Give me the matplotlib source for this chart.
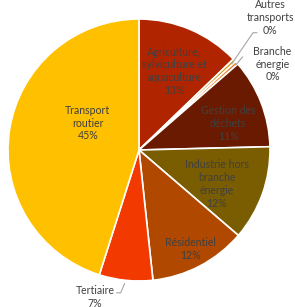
import matplotlib
matplotlib.use("Agg")
import matplotlib.pyplot as plt

# Données (parts des émissions, %)
categories = ["Agriculture,\nsylviculture et\naquaculture", "Autres\ntransports",
              "Branche\nénergie", "Gestion des\ndéchets",
              "Industrie hors\nbranche\nénergie", "Résidentiel", "Tertiaire",
              "Transport\nroutier"]
values = [12.8, 0.4, 0.4, 11.0, 11.7, 12.0, 6.6, 45.1]
colors = ["#B02400", "#C99A10", "#F07A22", "#6A1A00", "#7A5D00",
          "#B04800", "#F23A00", "#FFC000"]

# position des étiquettes (coordonnées du camembert, rayon 1)
label_xy = [(0.27, 0.60), (1.0, 1.01), (1.02, 0.655), (0.68, 0.20),
            (0.595, -0.26), (0.39, -0.755), (-0.336, -1.12), (-0.39, 0.206)]
outside = [False, True, True, False, False, False, True, False]

plt.rcParams['font.family'] = ['Lato', 'DejaVu Sans']
txt_color = "#404040"

fig = plt.figure(figsize=(2.95, 3.07), dpi=100)
ax = fig.add_axes([0, 0, 1, 1])
ax.pie(values, colors=colors, startangle=90, counterclock=False, radius=1,
       wedgeprops=dict(edgecolor='white', linewidth=1.2))
ax.set_xlim(-139 / 131, 156 / 131)
ax.set_ylim(-157 / 131, 150 / 131)
ax.set_aspect('equal')
ax.axis('off')

for name, v, (x, y), out in zip(categories, values, label_xy, outside):
    ax.text(x, y, f"{name}\n{round(v)}%", ha='center', va='center',
            fontsize=7.6, color=txt_color, linespacing=1.2)

# lignes de rappel
line_col = "#A6A6A6"
ax.plot([0.90, 0.87, 0.71], [0.895, 0.895, 0.66], color=line_col, lw=0.8)
ax.plot([0.79, 0.74], [0.71, 0.65], color=line_col, lw=0.8)
ax.plot([-0.17, -0.14, -0.11], [-1.09, -1.09, -1.02], color=line_col, lw=0.8)

fig.savefig("out.png", dpi=100)
